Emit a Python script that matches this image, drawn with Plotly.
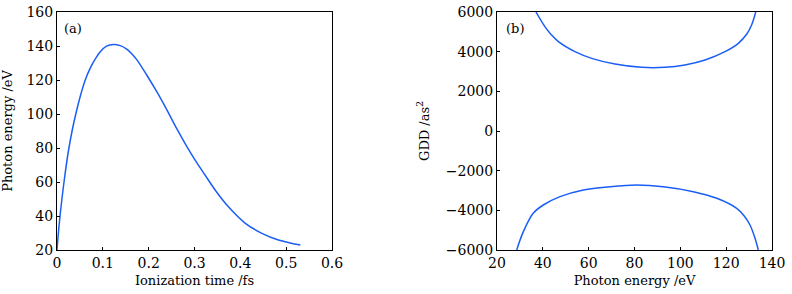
import plotly.graph_objects as go

# Panel (a): photon energy vs ionization time
ion_time_fs = [0, 0.003, 0.0066, 0.0153, 0.026, 0.041, 0.061, 0.073, 0.085, 0.0939,
               0.108, 0.123, 0.138, 0.152, 0.163, 0.174, 0.196, 0.218, 0.240, 0.261,
               0.283, 0.3014, 0.323, 0.345, 0.374, 0.411, 0.447, 0.483, 0.531]
photon_energy_ev = [20, 30, 40, 60, 80, 100, 119.5, 127.3, 133, 136.5,
                    139.9, 140.9, 140.2, 138.2, 135.5, 132.0, 122.8, 113.0, 102.3, 91.5,
                    81.0, 72.9, 64.1, 55.3, 45.4, 35.7, 29.8, 25.9, 22.9]

# Panel (b): GDD vs photon energy (two branches)
upper_energy = [37.0, 40.9, 43.5, 46.8, 54.0, 61.3, 71.5, 83.1, 93.3, 102.0,
                110.8, 119.5, 125.3, 129.0, 131.1, 132.9]
upper_gdd = [6000, 5260, 4880, 4503, 4000, 3663, 3378, 3210, 3210, 3328,
             3580, 4000, 4420, 4890, 5345, 6000]
lower_energy = [28.6, 31.5, 35.8, 40.2, 47.5, 57.7, 69.3, 81.0,
                92.6, 105.7, 115.9, 124.6, 127.8, 130.4, 132.6, 134.0]
lower_gdd = [-6000, -5076, -4150, -3731, -3310, -2975, -2808, -2723,
             -2808, -3058, -3394, -3898, -4270, -4739, -5410, -6000]

xa_ticks = [0, 0.1, 0.2, 0.3, 0.4, 0.5, 0.6]
ya_ticks = [20, 40, 60, 80, 100, 120, 140, 160]
xb_ticks = [20, 40, 60, 80, 100, 120, 140]
yb_ticks = [-6000, -4000, -2000, 0, 2000, 4000, 6000]

BLUE = "#1b5ef5"
FONT = "DejaVu Serif"
TICK_SIZE = 14
TITLE_SIZE = 13

line_style = dict(color=BLUE, width=1.5, shape="spline", smoothing=1.0)

fig = go.Figure()
fig.add_trace(go.Scatter(x=ion_time_fs, y=photon_energy_ev, mode="lines",
                         line=line_style, xaxis="x", yaxis="y", showlegend=False))
fig.add_trace(go.Scatter(x=upper_energy, y=upper_gdd, mode="lines",
                         line=line_style, xaxis="x2", yaxis="y2", showlegend=False))
fig.add_trace(go.Scatter(x=lower_energy, y=lower_gdd, mode="lines",
                         line=line_style, xaxis="x2", yaxis="y2", showlegend=False))

W, H = 792, 294
ax_common = dict(showgrid=False, zeroline=False, showline=True, linecolor="black",
                 linewidth=1, mirror=True, ticks="inside", ticklen=3,
                 tickcolor="black", automargin=False,
                 tickfont=dict(family=FONT, size=TICK_SIZE, color="black"),
                 title_font=dict(family=FONT, size=TITLE_SIZE, color="black"))

y0 = 1 - 250 / H
y1 = 1 - 12 / H

fig.update_layout(
    width=W, height=H, margin=dict(l=0, r=0, t=0, b=0),
    paper_bgcolor="white", plot_bgcolor="white",
    xaxis=dict(ax_common, domain=[57 / W, 332 / W], range=[0, 0.6],
               tickvals=xa_ticks, ticktext=[f"{v:g}" for v in xa_ticks],
               title=dict(text="Ionization time /fs", standoff=6), anchor="y"),
    yaxis=dict(ax_common, domain=[y0, y1], range=[20, 160],
               tickvals=ya_ticks, title=dict(text="Photon energy /eV", standoff=10),
               anchor="x"),
    xaxis2=dict(ax_common, domain=[497 / W, 772 / W], range=[20, 140],
                tickvals=xb_ticks, title=dict(text="Photon energy /eV", standoff=6),
                anchor="y2"),
    yaxis2=dict(ax_common, domain=[y0, y1], range=[-6000, 6000],
                tickvals=yb_ticks,
                ticktext=[("\u2212" + str(abs(v))) if v < 0 else str(v) for v in yb_ticks],
                title=dict(text="GDD /as<sup>2</sup>", standoff=13), anchor="x2"),
    annotations=[
        dict(text="(a)", x=0.018, y=0.97, xref="x domain", yref="y domain",
             xanchor="left", yanchor="top", showarrow=False,
             font=dict(family=FONT, size=TITLE_SIZE, color="black")),
        dict(text="(b)", x=0.025, y=0.97, xref="x2 domain", yref="y2 domain",
             xanchor="left", yanchor="top", showarrow=False,
             font=dict(family=FONT, size=TITLE_SIZE, color="black")),
    ],
)

fig.write_html("out.html", config={"displayModeBar": False},
               post_script="document.body.style.margin='0';document.body.style.overflow='hidden';")
